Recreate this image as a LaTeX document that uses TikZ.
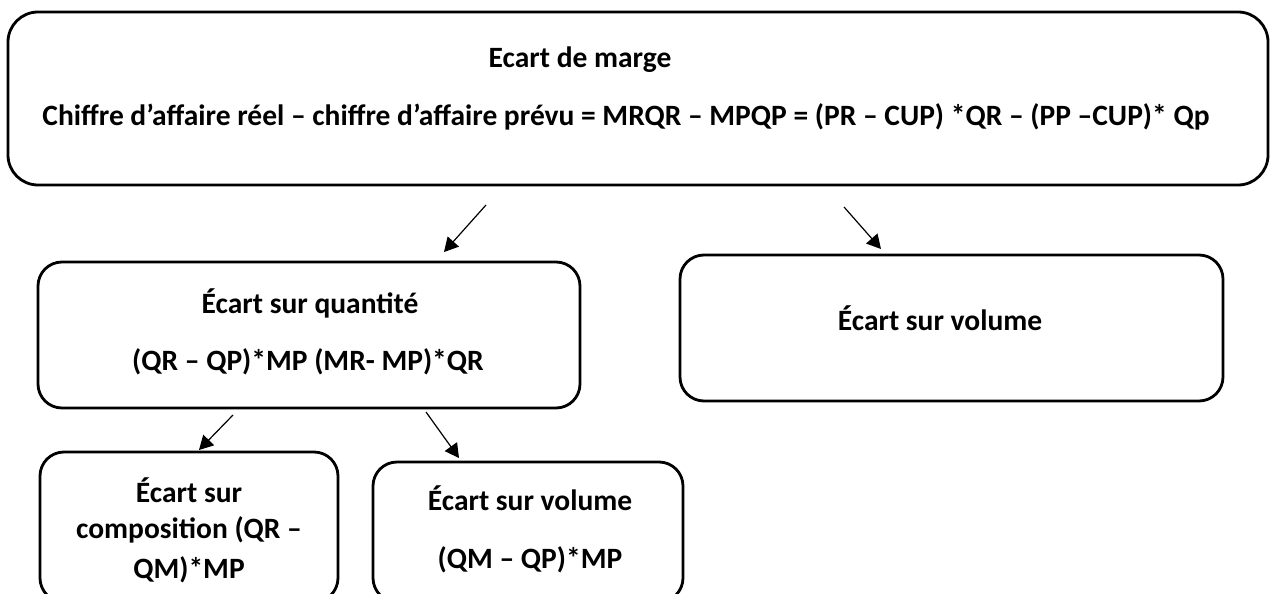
\documentclass[tikz,border=0pt]{standalone}
\usepackage{fontspec}
\setmainfont{Carlito}
\usetikzlibrary{arrows.meta}
\begin{document}
\begin{tikzpicture}[x=1pt,y=-1pt,
  box/.style={draw, line width=2.8pt, rounded corners=24pt, inner sep=0pt, outer sep=0pt},
  lbl/.style={inner sep=0pt, font=\fontsize{29.5}{34}\selectfont\bfseries},
  link/.style={line width=1.2pt, -{Triangle[length=14pt,width=15pt]}}]
\useasboundingbox (0,0) rectangle (1271,594);
% boxes
\node[box, minimum width=1260pt, minimum height=173pt, rounded corners=30pt] (top) at (638,98.5) {};
\node[box, minimum width=542pt, minimum height=146pt] (qty) at (309,335) {};
\node[box, minimum width=543pt, minimum height=146pt] (vol) at (951.5,328) {};
\node[box, minimum width=298pt, minimum height=150pt] (comp) at (189,527) {};
\node[box, minimum width=310pt, minimum height=140pt] (vol2) at (528,532) {};
% texts
\node[lbl] (t1) at (580,60) {Ecart de marge};
\node[lbl] (t2) at (626,117) {Chiffre d’affaire réel – chiffre d’affaire prévu = MRQR – MPQP = (PR – CUP) *QR – (PP –CUP)* Qp};
\node[lbl] (q1) at (310,303) {Écart sur quantité};
\node[lbl] (q2) at (308,362) {(QR – QP)*MP (MR- MP)*QR};
\node[lbl] (v1) at (940,318) {Écart sur volume};
\node[lbl] (c1) at (189,490) {Écart sur};
\node[lbl] (c2) at (189,530) {composition (QR –};
\node[lbl] (c3) at (189,570) {QM)*MP};
\node[lbl] (w1) at (530,498) {Écart sur volume};
\node[lbl] (w2) at (530,560) {(QM – QP)*MP};
% arrows
\coordinate (a1s) at (486,205); \coordinate (a1e) at (444,252);
\coordinate (a2s) at (844,207); \coordinate (a2e) at (881,249);
\coordinate (a3s) at (233,415); \coordinate (a3e) at (199,450);
\coordinate (a4s) at (426,412); \coordinate (a4e) at (459,458);
\draw[link] (a1s) -- (a1e);
\draw[link] (a2s) -- (a2e);
\draw[link] (a3s) -- (a3e);
\draw[link] (a4s) -- (a4e);
\end{tikzpicture}
\end{document}
